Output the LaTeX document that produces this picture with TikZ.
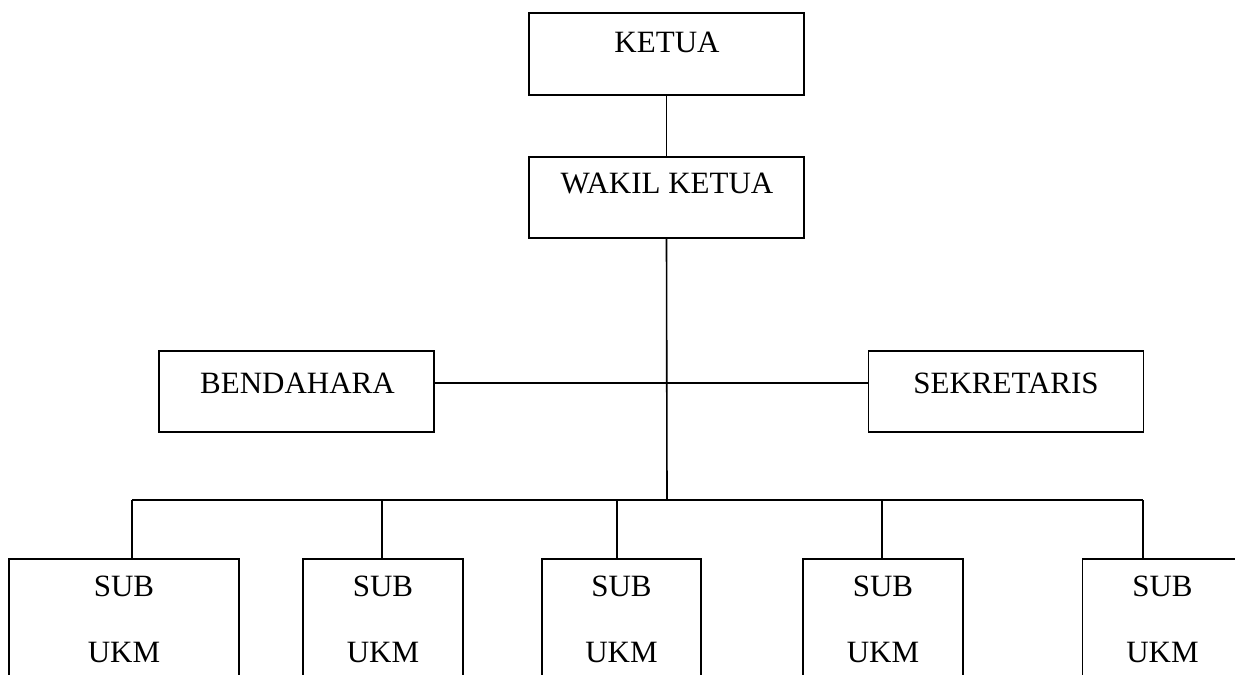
\documentclass[tikz,border=0pt]{standalone}
\usepackage{fontspec}
\setmainfont{Liberation Serif}
\begin{document}
\begin{tikzpicture}[x=1bp,y=-1bp,
  box/.style={draw=black,line width=1.7bp,rectangle,inner sep=0pt},
  lbl/.style={anchor=base,inner sep=0pt,font=\fontsize{31bp}{37bp}\selectfont},
  conn/.style={line width=1.6bp}]
\clip (0,0) rectangle (1235,675);
% top boxes
\node[box,minimum width=275bp,minimum height=82bp] (ketua) at (666.5,54) {};
\node[lbl] (tketua) at (667,53) {KETUA};
\node[box,minimum width=275bp,minimum height=81bp] (wakil) at (666.5,197.5) {};
\node[lbl] (twakil) at (667,194) {WAKIL KETUA};
\node[box,minimum width=275bp,minimum height=81bp] (bend) at (296.5,391.5) {};
\node[lbl] (tbend) at (297.5,393) {BENDAHARA};
\node[box,minimum width=275bp,minimum height=81bp] (sek) at (1006,391.5) {};
\node[lbl] (tsek) at (1006,393) {SEKRETARIS};
% sub boxes
\foreach \n/\cx/\w in {1/124/230,2/383/160,3/621.5/159,4/883/160,5/1162.5/160}{
  \node[box,minimum width=\w bp,minimum height=161bp] (s\n) at (\cx,639.5) {};
  \node[lbl] (sa\n) at (\cx,596) {SUB};
  \node[lbl] (sb\n) at (\cx,662) {UKM};
}
% junctions
\coordinate (mid) at (667,383);
\coordinate (bar) at (667,500);
\coordinate (j1) at (132,500);
\coordinate (j2) at (382,500);
\coordinate (j3) at (617,500);
\coordinate (j4) at (882,500);
\coordinate (j5) at (1143,500);
% connectors
\draw[conn] (ketua.south) -- (wakil.north);
\draw[conn] (wakil.south) -- (bar);
\draw[conn] (mid -| bend.east) -- (mid -| sek.west);
\draw[conn] (j1) -- (j5);
\foreach \n in {1,...,5}{
  \draw[conn] (j\n) -- (j\n |- s\n.north);
}
\end{tikzpicture}
\end{document}
